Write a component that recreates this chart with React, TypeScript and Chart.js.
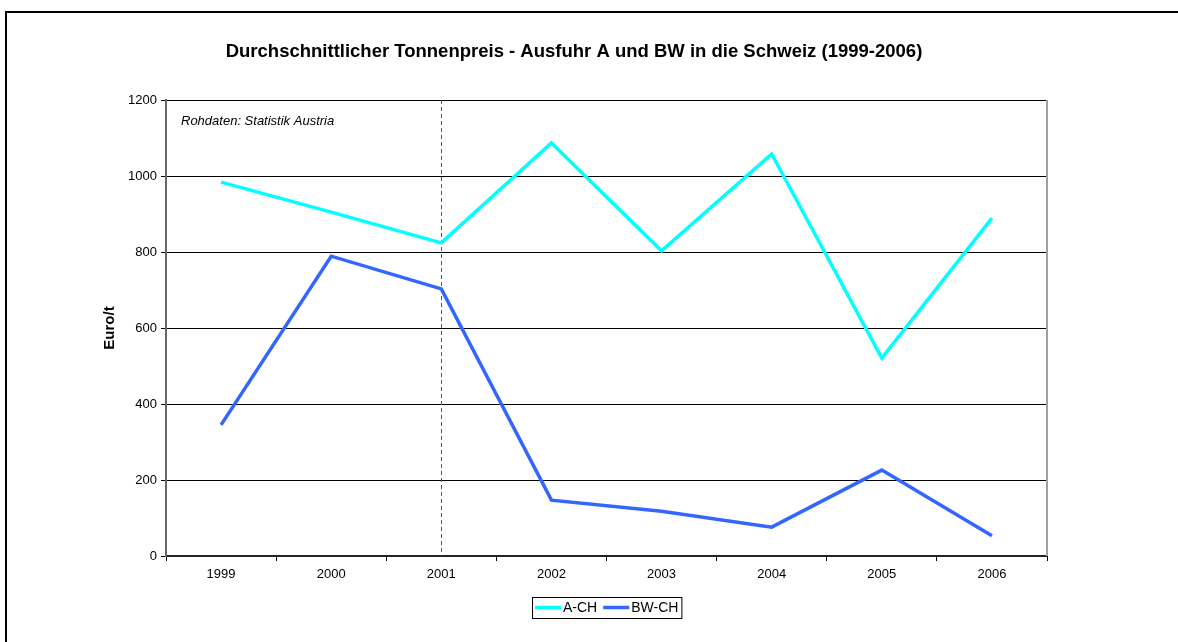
import React, { useEffect, useRef } from "react";
import { Chart, registerables } from "chart.js";

Chart.register(...registerables);

const years = ["1999", "2000", "2001", "2002", "2003", "2004", "2005", "2006"];
const aCH = [984, 905, 824, 1087, 803, 1058, 521, 889];
const bwCH = [345, 789, 703, 147, 118, 76, 226, 53];
const yTicks = [0, 200, 400, 600, 800, 1000, 1200];
const titleText = "Durchschnittlicher Tonnenpreis - Ausfuhr A und BW in die Schweiz (1999-2006)";
const yTitle = "Euro/t";
const sourceNote = "Rohdaten: Statistik Austria";
const markerYear = "2001";

const FONT = "'Liberation Sans', Arial, sans-serif";

const decorPlugin = {
  id: "decor",
  beforeDatasetsDraw(chart: any) {
    const { ctx, chartArea, scales } = chart;
    const x = Math.round(scales.x.getPixelForValue(years.indexOf(markerYear))) + 0.5;
    ctx.save();
    ctx.strokeStyle = "#555";
    ctx.lineWidth = 1;
    ctx.setLineDash([4, 3]);
    ctx.beginPath();
    ctx.moveTo(x, chartArea.top);
    ctx.lineTo(x, chartArea.bottom);
    ctx.stroke();
    ctx.setLineDash([]);
    ctx.strokeStyle = "#a0a0a0";
    ctx.lineWidth = 2;
    ctx.beginPath();
    ctx.moveTo(chartArea.right, chartArea.top);
    ctx.lineTo(chartArea.right, chartArea.bottom);
    ctx.stroke();
    ctx.restore();
  },
  afterDraw(chart: any) {
    const { ctx, chartArea } = chart;
    ctx.save();
    ctx.strokeStyle = "#000";
    ctx.lineWidth = 2;
    ctx.strokeRect(6, 12, 2000, 2000);
    ctx.fillStyle = "#000";
    ctx.font = `bold 18.5px ${FONT}`;
    ctx.textAlign = "center";
    ctx.textBaseline = "middle";
    ctx.fillText(titleText, 574, 52);
    ctx.font = `italic 13px ${FONT}`;
    ctx.textAlign = "left";
    ctx.fillText(sourceNote, 181, 121);
    ctx.save();
    ctx.translate(110, (chartArea.top + chartArea.bottom) / 2);
    ctx.rotate(-Math.PI / 2);
    ctx.font = `bold 15px ${FONT}`;
    ctx.textAlign = "center";
    ctx.fillText(yTitle, 0, 0);
    ctx.restore();
    const ds = chart.data.datasets;
    ctx.font = `14px ${FONT}`;
    const bx = 532, by = 597, bh = 21;
    let cx = bx + 3;
    const items: { c: string; t: string; x: number }[] = [];
    ds.forEach((d: any) => {
      items.push({ c: d.borderColor, t: d.label, x: cx });
      cx += 28 + ctx.measureText(d.label).width + 6;
    });
    const bw = cx - bx - 3;
    ctx.strokeStyle = "#000";
    ctx.lineWidth = 1;
    ctx.strokeRect(bx + 0.5, by + 0.5, bw, bh);
    items.forEach((it) => {
      ctx.strokeStyle = it.c;
      ctx.lineWidth = 3.5;
      ctx.beginPath();
      ctx.moveTo(it.x, by + 10.5);
      ctx.lineTo(it.x + 26, by + 10.5);
      ctx.stroke();
      ctx.fillStyle = "#000";
      ctx.textAlign = "left";
      ctx.textBaseline = "middle";
      ctx.fillText(it.t, it.x + 28, by + 11);
    });
    ctx.restore();
  },
};

export default function App() {
  const ref = useRef<HTMLCanvasElement>(null);
  useEffect(() => {
    if (!ref.current) return;
    const chart = new Chart(ref.current, {
      type: "line",
      data: {
        labels: years,
        datasets: [
          { label: "A-CH", data: aCH, borderColor: "#00FFFF", backgroundColor: "#00FFFF", borderWidth: 3.5, pointRadius: 0, tension: 0 },
          { label: "BW-CH", data: bwCH, borderColor: "#3366FF", backgroundColor: "#3366FF", borderWidth: 3.5, pointRadius: 0, tension: 0 },
        ],
      },
      options: {
        responsive: false,
        animation: false,
        layout: { padding: { left: 0, top: 100, right: 131, bottom: 0 } },
        plugins: { legend: { display: false }, title: { display: false }, tooltip: { enabled: false } },
        scales: {
          x: {
            type: "category",
            offset: true,
            afterFit: (s: any) => { s.height = 86; },
            grid: { offset: true, drawOnChartArea: false, drawTicks: true, tickLength: 5, color: "#000" },
            border: { color: "#222", width: 2 },
            ticks: { color: "#000", font: { family: FONT, size: 13 }, padding: 6, maxRotation: 0 },
          },
          y: {
            min: 0,
            max: 1200,
            afterFit: (s: any) => { s.width = 166; },
            afterBuildTicks: (s: any) => { s.ticks = yTicks.map((v) => ({ value: v })); },
            grid: { color: "#000", lineWidth: 1, drawTicks: true, tickLength: 5 },
            border: { color: "#666", width: 2 },
            ticks: { color: "#000", font: { family: FONT, size: 13 }, padding: 4, callback: (v: any) => String(v) },
          },
        },
      },
      plugins: [decorPlugin],
    });
    return () => chart.destroy();
  }, []);
  return (
    <div style={{ position: "absolute", left: 0, top: 0, width: 1178, height: 642, background: "#fff" }}>
      <canvas ref={ref} width={1178} height={642} style={{ width: 1178, height: 642, display: "block" }} />
    </div>
  );
}
